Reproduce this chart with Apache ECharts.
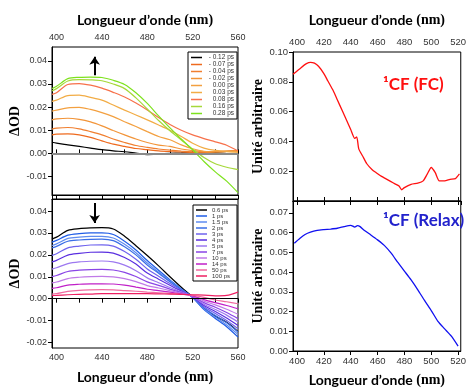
<!DOCTYPE html>
<html>
<head>
<meta charset="utf-8">
<script src="https://cdn.jsdelivr.net/npm/echarts@6/dist/echarts.min.js"></script>
<style>
  html, body { margin: 0; padding: 0; background: #fff; }
  #chart { width: 469px; height: 388px; }
</style>
</head>
<body>
<div id="chart"></div>
<script>
// longueurs d'onde (nm) des panneaux de gauche
var wl = [396, 400, 410, 420, 430, 440, 450, 460, 470, 480, 490, 500, 510, 520, 530, 540, 550, 560];

// panneau haut gauche : temps négatifs / courts
var tlNames = ['- 0.12 ps', '- 0.07 ps', '- 0.04 ps', '- 0.02 ps', '0.00 ps', '0.03 ps', '0.08 ps', '0.16 ps', '0.28 ps'];
var tlColors = ['#000000', '#ee6a1e', '#f07f30', '#f29438', '#f3a040', '#f2ac45', '#f7704a', '#a6d83a', '#7ee21e'];
var t_m012 = [0.0048, 0.0044, 0.0037, 0.0030, 0.0023, 0.0016, 0.0011, 0.0007, 0.0001, -0.0005, -0.0003, 0.0000, 0.0002, 0.0004, 0.0003, 0.0004, 0.0008, 0.0009];
var t_m007 = [0.0080, 0.0083, 0.0084, 0.0080, 0.0069, 0.0054, 0.0040, 0.0030, 0.0021, 0.0016, 0.0011, 0.0008, 0.0006, 0.0004, 0.0004, 0.0006, 0.0008, 0.0010];
var t_m004 = [0.0105, 0.0109, 0.0112, 0.0106, 0.0094, 0.0080, 0.0062, 0.0047, 0.0034, 0.0026, 0.0019, 0.0014, 0.0010, 0.0007, 0.0006, 0.0008, 0.0010, 0.0012];
var t_m002 = [0.0145, 0.0149, 0.0152, 0.0147, 0.0136, 0.0119, 0.0099, 0.0080, 0.0062, 0.0047, 0.0036, 0.0030, 0.0019, 0.0012, 0.0008, 0.0008, 0.0010, 0.0012];
var t_000 = [0.0183, 0.0187, 0.0197, 0.0199, 0.0190, 0.0176, 0.0159, 0.0137, 0.0116, 0.0094, 0.0073, 0.0059, 0.0037, 0.0020, 0.0009, 0.0006, 0.0007, 0.0009];
var t_003 = [0.0225, 0.0230, 0.0250, 0.0252, 0.0242, 0.0230, 0.0209, 0.0187, 0.0166, 0.0145, 0.0123, 0.0100, 0.0073, 0.0044, 0.0023, 0.0013, 0.0009, 0.0004];
var t_008 = [0.0255, 0.0262, 0.0298, 0.0302, 0.0295, 0.0282, 0.0264, 0.0244, 0.0218, 0.0188, 0.0155, 0.0125, 0.0100, 0.0080, 0.0064, 0.0050, 0.0035, 0.0010];
var t_016 = [0.0270, 0.0280, 0.0313, 0.0319, 0.0318, 0.0314, 0.0300, 0.0280, 0.0240, 0.0192, 0.0142, 0.0098, 0.0058, 0.0018, -0.0018, -0.0045, -0.0060, -0.0070];
var t_028 = [0.0280, 0.0290, 0.0323, 0.0329, 0.0330, 0.0328, 0.0316, 0.0298, 0.0262, 0.0216, 0.0162, 0.0110, 0.0062, 0.0015, -0.0035, -0.0080, -0.0120, -0.0170];
var tlData = [t_m012, t_m007, t_m004, t_m002, t_000, t_003, t_008, t_016, t_028];

// panneau bas gauche : relaxation
var blNames = ['0.6 ps', '1 ps', '1.5 ps', '2 ps', '3 ps', '4 ps', '5 ps', '7 ps', '10 ps', '14 ps', '50 ps', '100 ps'];
var blColors = ['#000000', '#1f5ce6', '#5f8cf0', '#3a6ee6', '#6f63ee', '#5a2fe0', '#9d78f0', '#8a45e6', '#c07ae8', '#c020c8', '#f06aa0', '#ee1f62'];
var b06 = [0.0272, 0.0281, 0.0312, 0.0320, 0.0323, 0.0324, 0.0318, 0.0285, 0.0242, 0.0197, 0.0150, 0.0100, 0.0052, 0.0008, -0.0045, -0.0080, -0.0108, -0.0150];
var b1 = [0.0258, 0.0266, 0.0290, 0.0297, 0.0300, 0.0300, 0.0293, 0.0262, 0.0222, 0.0174, 0.0130, 0.0086, 0.0045, 0.0005, -0.0050, -0.0090, -0.0128, -0.0175];
var b15 = [0.0243, 0.0250, 0.0275, 0.0281, 0.0284, 0.0284, 0.0277, 0.0248, 0.0210, 0.0163, 0.0122, 0.0081, 0.0043, 0.0006, -0.0046, -0.0084, -0.0120, -0.0163];
var b2 = [0.0232, 0.0239, 0.0262, 0.0268, 0.0271, 0.0272, 0.0265, 0.0237, 0.0200, 0.0154, 0.0116, 0.0077, 0.0041, 0.0007, -0.0042, -0.0077, -0.0110, -0.0152];
var b3 = [0.0198, 0.0205, 0.0232, 0.0240, 0.0245, 0.0246, 0.0240, 0.0215, 0.0180, 0.0136, 0.0103, 0.0069, 0.0038, 0.0008, -0.0037, -0.0068, -0.0100, -0.0137];
var b4 = [0.0168, 0.0175, 0.0199, 0.0207, 0.0212, 0.0213, 0.0208, 0.0188, 0.0158, 0.0117, 0.0089, 0.0061, 0.0034, 0.0009, -0.0031, -0.0058, -0.0088, -0.0122];
var b5 = [0.0135, 0.0141, 0.0160, 0.0168, 0.0171, 0.0172, 0.0168, 0.0153, 0.0128, 0.0095, 0.0073, 0.0051, 0.0031, 0.0010, -0.0025, -0.0049, -0.0075, -0.0106];
var b7 = [0.0101, 0.0106, 0.0124, 0.0130, 0.0133, 0.0134, 0.0131, 0.0120, 0.0101, 0.0077, 0.0061, 0.0044, 0.0028, 0.0011, -0.0018, -0.0039, -0.0063, -0.0091];
var b10 = [0.0072, 0.0076, 0.0092, 0.0098, 0.0101, 0.0102, 0.0100, 0.0092, 0.0078, 0.0060, 0.0049, 0.0037, 0.0025, 0.0012, -0.0011, -0.0028, -0.0048, -0.0071];
var b14 = [0.0047, 0.0050, 0.0062, 0.0066, 0.0068, 0.0068, 0.0067, 0.0062, 0.0053, 0.0043, 0.0037, 0.0030, 0.0022, 0.0013, -0.0004, -0.0018, -0.0031, -0.0046];
var b50 = [0.0021, 0.0023, 0.0033, 0.0038, 0.0040, 0.0041, 0.0040, 0.0037, 0.0034, 0.0030, 0.0027, 0.0024, 0.0020, 0.0015, 0.0006, -0.0006, -0.0014, -0.0023];
var b100 = [0.0014, 0.0015, 0.0018, 0.0020, 0.0021, 0.0023, 0.0023, 0.0023, 0.0023, 0.0023, 0.0022, 0.0021, 0.0020, 0.0018, 0.0016, 0.0013, 0.0015, 0.0030];
var blData = [b06, b1, b15, b2, b3, b4, b5, b7, b10, b14, b50, b100];

// panneaux de droite : spectres 1CF
var fcWl = [397, 403, 407, 410, 413, 416, 420, 423, 427, 430, 434, 437, 440, 443, 444.5, 446, 449, 452, 456, 459, 463, 466, 470, 473, 476, 478, 480, 485, 490, 494, 497, 500, 503, 506, 510, 514, 518, 521];
var fcVal = [0.085, 0.0895, 0.0922, 0.0931, 0.0925, 0.0904, 0.0855, 0.0805, 0.074, 0.068, 0.060, 0.054, 0.048, 0.042, 0.043, 0.035, 0.030, 0.025, 0.021, 0.019, 0.0165, 0.015, 0.013, 0.0115, 0.010, 0.0075, 0.009, 0.0112, 0.012, 0.0135, 0.018, 0.0225, 0.019, 0.0135, 0.0135, 0.0145, 0.015, 0.0182];
var rlWl = [398, 402, 406, 410, 415, 420, 425, 430, 435, 440, 443, 445, 447, 450, 455, 460, 465, 470, 475, 480, 485, 490, 495, 500, 505, 510, 515, 520];
var rlVal = [0.0546, 0.057, 0.059, 0.0602, 0.0611, 0.0615, 0.0618, 0.0622, 0.063, 0.0637, 0.0628, 0.0635, 0.063, 0.0612, 0.0588, 0.0563, 0.0535, 0.0497, 0.045, 0.0405, 0.036, 0.031, 0.0256, 0.0205, 0.015, 0.0112, 0.0075, 0.0025];

function pairs(x, y) {
  var out = [];
  for (var i = 0; i < x.length; i++) out.push([x[i], y[i]]);
  return out;
}

var myChart = echarts.init(document.getElementById('chart'));

var lab = { color: '#333', fontFamily: 'Liberation Sans', fontSize: 9 };
var titleRich = {
  a: { fontFamily: 'Lato', fontWeight: 'bold', fontSize: 14, color: '#000' },
  b: { fontFamily: 'Liberation Serif', fontWeight: 'bold', fontSize: 14, color: '#000' }
};
var xTitle = '{a|Longueur d\u2019onde }{b|(nm)}';

function leftX(grid, pos, showLab, name) {
  return {
    type: 'value', gridIndex: grid, position: pos, min: 396, max: 560, splitNumber: 8,
    name: name || '', nameLocation: 'middle', nameGap: pos == 'top' ? 20 : 22,
    nameTextStyle: { rich: titleRich },
    axisLine: { lineStyle: { color: '#000' } },
    axisTick: { show: true, length: 4, lineStyle: { color: '#000' } },
    axisLabel: {
      show: showLab, margin: 5, showMinLabel: false,
      color: lab.color, fontFamily: lab.fontFamily, fontSize: lab.fontSize,
      formatter: function (v) { return v % 40 === 0 ? v : ''; }
    },
    splitLine: { show: false }
  };
}
function rightX(grid, pos, showLab, name) {
  return {
    type: 'value', gridIndex: grid, position: pos, min: 397, max: 522, splitNumber: 6,
    name: name || '', nameLocation: 'middle', nameGap: pos == 'top' ? 25 : 22,
    nameTextStyle: { rich: titleRich },
    axisLine: { lineStyle: { color: '#000' } },
    axisTick: { show: true, length: 4, lineStyle: { color: '#000' } },
    axisLabel: {
      show: showLab, margin: 5, showMinLabel: false, showMaxLabel: false,
      color: lab.color, fontFamily: lab.fontFamily, fontSize: 9.5
    },
    splitLine: { show: false }
  };
}
function yAx(grid, min, max, split, name, gap, showMin, showMax) {
  return {
    type: 'value', gridIndex: grid, min: min, max: max, splitNumber: split,
    name: name, nameLocation: 'middle', nameGap: gap, nameRotate: 90,
    nameTextStyle: { fontFamily: 'Liberation Serif', fontWeight: 'bold', fontSize: 14, color: '#000' },
    axisLine: { show: true, lineStyle: { color: '#000' } },
    axisTick: { show: true, length: 4, lineStyle: { color: '#000' } },
    axisLabel: {
      margin: 5, showMinLabel: showMin, showMaxLabel: showMax,
      color: lab.color, fontFamily: lab.fontFamily, fontSize: grid < 2 ? 9 : 9.5,
      formatter: function (v) { return v.toFixed(2); }
    },
    splitLine: { show: false }
  };
}

var series = [];
for (var i = 0; i < tlData.length; i++) {
  series.push({
    name: tlNames[i], type: 'line', xAxisIndex: 0, yAxisIndex: 0,
    data: pairs(wl, tlData[i]), symbol: 'none', smooth: 0.3,
    lineStyle: { width: 1.2, color: tlColors[i] }, itemStyle: { color: tlColors[i] }
  });
}
// ligne zéro grise et flèche montante
series[0].markLine = {
  silent: true, symbol: 'none', label: { show: false },
  lineStyle: { color: '#8a8a8a', width: 2, type: 'solid' },
  data: [{ yAxis: 0 }]
};
series[8].markLine = {
  silent: true, symbol: ['none', 'arrow'], symbolSize: 8, label: { show: false },
  lineStyle: { color: '#000', width: 2, type: 'solid' },
  data: [[{ coord: [433.6, 0.0338] }, { coord: [433.6, 0.0418] }]]
};

for (var j = 0; j < blData.length; j++) {
  series.push({
    name: blNames[j], type: 'line', xAxisIndex: 2, yAxisIndex: 1,
    data: pairs(wl, blData[j]), symbol: 'none', smooth: 0.3,
    lineStyle: { width: 1.2, color: blColors[j] }, itemStyle: { color: blColors[j] }
  });
}
series[9].markLine = {
  silent: true, symbol: ['none', 'arrow'], symbolSize: 8, label: { show: false },
  lineStyle: { color: '#000', width: 2, type: 'solid' },
  data: [[{ coord: [433.6, 0.0437] }, { coord: [433.6, 0.0345] }]]
};
series[series.length - 1].markLine = {
  silent: true, symbol: 'none', label: { show: false },
  lineStyle: { color: '#000', width: 1, type: 'solid' },
  data: [{ yAxis: 0 }]
};

series.push({
  name: 'FC', type: 'line', xAxisIndex: 4, yAxisIndex: 2,
  data: pairs(fcWl, fcVal), symbol: 'none', smooth: 0.2,
  lineStyle: { width: 1.3, color: '#ff1010' }
});
series.push({
  name: 'Relax', type: 'line', xAxisIndex: 6, yAxisIndex: 3,
  data: pairs(rlWl, rlVal), symbol: 'none', smooth: 0.2,
  lineStyle: { width: 1.3, color: '#1010f0' }
});

var legendBase = {
  orient: 'vertical', icon: 'rect', itemWidth: 11, itemHeight: 1.5, itemGap: 0,
  backgroundColor: '#fff', borderColor: '#000', borderWidth: 1, borderRadius: 0,
  padding: [2, 3, 2, 3], selectedMode: false
};

option = {
  animation: false,
  backgroundColor: '#fff',
  grid: [
    { left: 52, right: 231, top: 47, height: 148, show: true, borderColor: '#000', borderWidth: 1 },
    { left: 52, right: 231, top: 199, height: 149, show: true, borderColor: '#000', borderWidth: 1 },
    { left: 293, right: 1, top: 52, height: 149, show: true, borderColor: '#000', borderWidth: 1 },
    { left: 293, right: 1, top: 201, height: 150, show: true, borderColor: '#000', borderWidth: 1 }
  ],
  xAxis: [
    leftX(0, 'top', true, xTitle),
    leftX(0, 'bottom', false),
    leftX(1, 'bottom', true, xTitle),
    leftX(1, 'top', false),
    rightX(2, 'top', true, xTitle),
    rightX(2, 'bottom', false),
    rightX(3, 'bottom', true, xTitle)
  ],
  yAxis: [
    yAx(0, -0.018, 0.046, 6, '\u0394OD', 29, false, false),
    yAx(1, -0.0225, 0.0455, 6, '\u0394OD', 29, false, false),
    yAx(2, 0, 0.1, 5, 'Unit\u00e9 arbitraire', 27, false, true),
    yAx(3, 0, 0.076, 7, 'Unit\u00e9 arbitraire', 27, true, false)
  ],
  legend: [
    Object.assign({}, legendBase, {
      data: tlNames, right: 232, top: 52,
      formatter: function (n) { return '{r|' + n + '}'; },
      textStyle: { rich: { r: { fontFamily: 'Liberation Sans', fontSize: 6.5, color: '#333', lineHeight: 7.4, width: 27, align: 'right' } } }
    }),
    Object.assign({}, legendBase, {
      data: blNames, right: 232, top: 205,
      formatter: function (n) { return '{r|' + n + '}'; },
      textStyle: { rich: { r: { fontFamily: 'Liberation Sans', fontSize: 6, color: '#333', lineHeight: 6.8, width: 22, align: 'left' } } }
    })
  ],
  graphic: [
    { type: 'text', left: 383, top: 76, style: { text: '\u00b9CF (FC)', fill: '#ff1010', font: 'bold 17px Lato' } },
    { type: 'text', left: 383, top: 212, style: { text: '\u00b9CF (Relax)', fill: '#2222cc', font: 'bold 17px Lato' } }
  ],
  series: series
};

myChart.setOption(option);
</script>
</body>
</html>
